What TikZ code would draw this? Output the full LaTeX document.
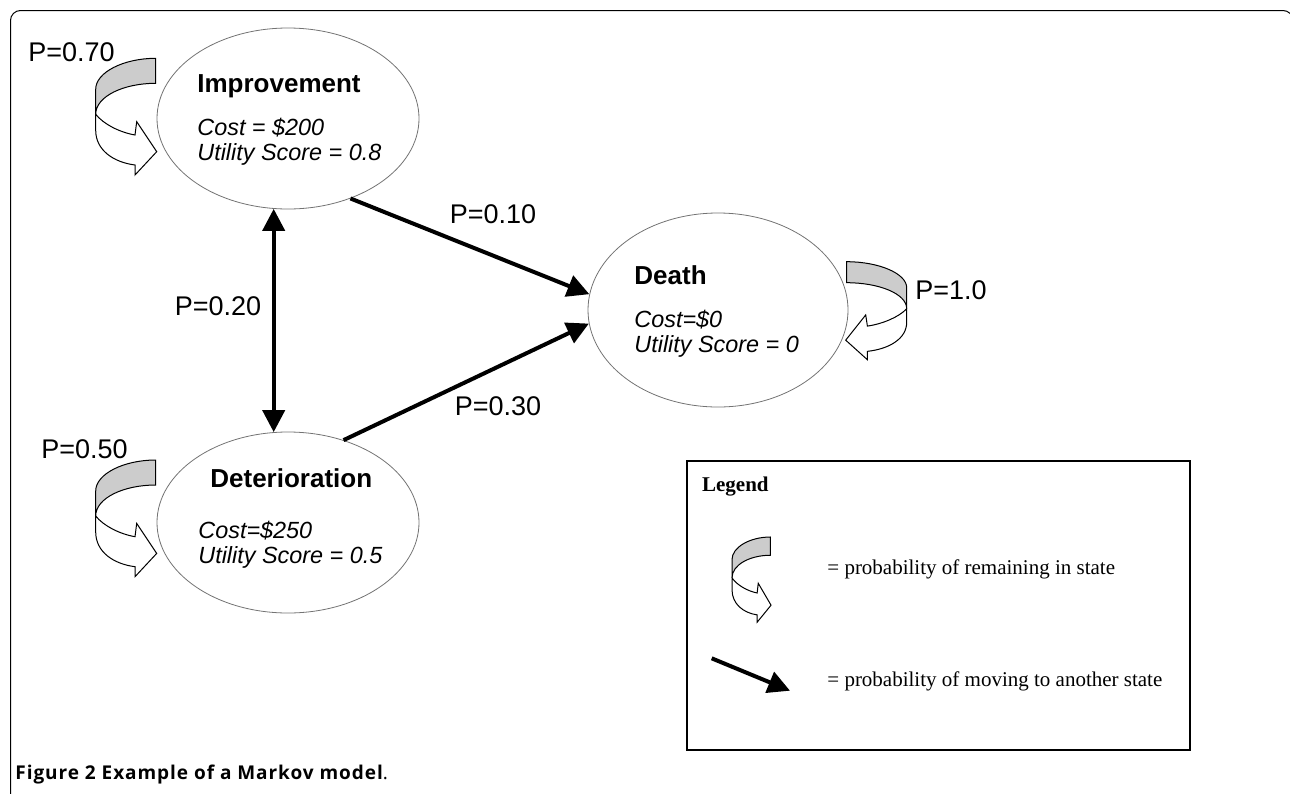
\documentclass[tikz,border=0pt]{standalone}
\usepackage{fontspec}
\setmainfont{Liberation Sans}
\newfontfamily\legendfont{Liberation Serif}
\newfontfamily\captionfont[LetterSpace=5]{Open Sans}
\usepackage{tikz}
\usetikzlibrary{arrows.meta,shapes.geometric}
\newcommand\statetitle[1]{{\fontsize{13}{13}\selectfont\bfseries\upshape #1}}
\tikzset{
	movetip/.tip={Triangle[length=11pt,width=11pt]},
	state/.style={ellipse,draw=black!55,line width=0.4pt,inner sep=0pt,minimum width=131pt,minimum height=90.5pt},
	statetext/.style={anchor=north west,inner sep=0pt,align=left,font=\fontsize{11.7}{12.5}\selectfont\itshape},
	plabel/.style={inner sep=0pt,font=\fontsize{13.5}{15}\selectfont},
	legendtext/.style={inner sep=0pt,anchor=base west,font=\legendfont\fontsize{10.5}{12}\selectfont},
	move/.style={line width=2pt,-movetip},
	loopband/.style={draw=black,line width=0.5pt,fill=black!20},
	looparrow/.style={draw=black,line width=0.5pt,fill=white},
	selfloop/.pic={
		\path[loopband] (60,0) -- (60,25) .. controls (28,25) and (0,38) .. (0,56) -- (0,31) .. controls (0,14) and (28,0) .. (60,0) -- cycle;
		\path[looparrow] (0,56) .. controls (8,66) and (24,74) .. (39.3,76.7) -- (41,63.4) -- (61,93.4) -- (39.3,116.7) -- (39.3,106.7) .. controls (18,104) and (0,92) .. (0,72) -- cycle;
	}
}
\begin{document}
\begin{tikzpicture}[x=0.5pt,y=-0.5pt]
	\useasboundingbox (0,0) rectangle (1290,793);
	\draw[line width=0.5pt,rounded corners=5pt] (10.5,10.5) rectangle (1293,830);

	\node[state] (improv) at (288,118.5) {};
	\node[state] (deter) at (288,522.5) {};
	\node[state,minimum width=130pt,minimum height=97pt] (death) at (718,310) {};

	\node[statetext] (improvtext) at (197,74.5) {\statetitle{Improvement}\\[9pt]Cost = \$200\\Utility Score = 0.8};
	\node[statetext] (detertext) at (198,468.5) {\statetitle{\hspace*{6pt}Deterioration}\\[13pt]Cost=\$250\\Utility Score = 0.5};
	\node[statetext] (deathtext) at (634,265) {\statetitle{Death}\\[9pt]Cost=\$0\\Utility Score = 0};

	\pic at (95.7,58.3) {selfloop};
	\pic at (95.7,460) {selfloop};
	\pic[xscale=-1,yscale=0.84] at (906.7,261.7) {selfloop};

	\node[plabel] (p70) at (71.5,52.5) {P=0.70};
	\node[plabel] (p50) at (84.5,449) {P=0.50};
	\node[plabel] (p20) at (218,306.5) {P=0.20};
	\node[plabel] (p10) at (493,214.5) {P=0.10};
	\node[plabel] (p30) at (498,406) {P=0.30};
	\node[plabel] (p100) at (951,290) {P=1.0};

	\draw[move] (improv.-52) -- (death.173);
	\draw[move] (deter.56) -- (death.186);
	\draw[move,movetip-movetip] (improv.-99) -- (deter.99);

	\node[draw,line width=0.7pt,inner sep=0pt,minimum width=251.5pt,minimum height=144.5pt] (legendbox) at (938.5,605.5) {};
	\node[legendtext,font=\legendfont\fontsize{10.5}{12}\selectfont\bfseries] (legendtitle) at (701.7,491.7) {Legend};
	\pic[xscale=0.64,yscale=0.73] at (732,537) {selfloop};
	\node[legendtext] (remaintext) at (827,574) {= probability of remaining in state};
	\coordinate (legfrom) at (711.7,658.3);
	\coordinate (legto) at (790,690.7);
	\draw[move] (legfrom) -- (legto);
	\node[legendtext] (movetext) at (827,686) {= probability of moving to another state};

	\node[inner sep=0pt,anchor=base west,font=\captionfont\fontsize{9.5}{11}\selectfont] (caption) at (15,779) {\textbf{Figure 2 Example of a Markov model}.};
\end{tikzpicture}
\end{document}
